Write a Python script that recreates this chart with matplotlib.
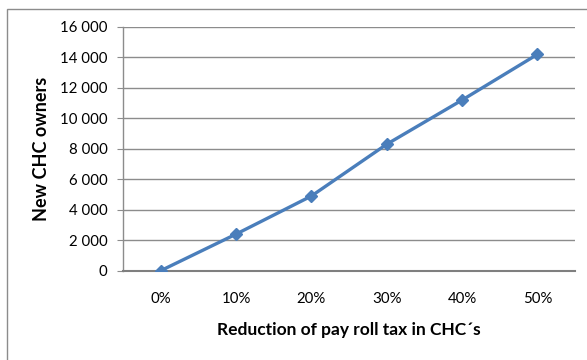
import matplotlib.pyplot as plt
from matplotlib.patches import Rectangle
from matplotlib.ticker import FuncFormatter

plt.rcParams['font.family'] = ['Lato', 'DejaVu Sans']

# data
categories = ['0%', '10%', '20%', '30%', '40%', '50%']
new_owners = [0, 2400, 4900, 8300, 11200, 14200]
y_ticks = [0, 2000, 4000, 6000, 8000, 10000, 12000, 14000, 16000]

fig = plt.figure(figsize=(5.87, 3.6), dpi=100)
ax = fig.add_axes([123 / 587, 1 - 270.7 / 360, 452 / 587, 243.7 / 360])

# chart-area border (Excel style)
fig.patches.append(Rectangle((7 / 587, -0.1), 1.2, 1 - 9 / 360 + 0.1,
                             transform=fig.transFigure, fill=False,
                             edgecolor='#8c8c8c', linewidth=1.0))

x = list(range(len(categories)))
ax.plot(x, new_owners, color='#4a7ebb', linewidth=2.4, marker='D',
        markersize=6.5, markerfacecolor='#4a7ebb', markeredgecolor='#4a7ebb',
        zorder=3)

ax.set_xlim(-0.5, len(categories) - 0.5)
ax.set_ylim(0, 16000)
ax.set_xticks(x)
ax.set_xticklabels(categories)
ax.set_yticks(y_ticks)
ax.yaxis.set_major_formatter(FuncFormatter(lambda v, p: f'{int(v):,}'.replace(',', ' ')))

ax.grid(axis='y', color='#8c8c8c', linewidth=1.0)
ax.set_axisbelow(True)
for s in ['top', 'right']:
    ax.spines[s].set_visible(False)
ax.spines['left'].set_color('#8c8c8c')
ax.spines['bottom'].set_color('#7f7f7f')
ax.spines['left'].set_linewidth(1.0)
ax.spines['bottom'].set_linewidth(1.5)

ax.tick_params(axis='y', length=4, color='#8c8c8c', pad=7, labelsize=10.8)
ax.tick_params(axis='x', length=0, pad=15, labelsize=10.8)

ax.set_ylabel('New CHC owners', fontsize=13, fontweight='bold', labelpad=7)
ax.set_xlabel('Reduction of pay roll tax in CHC\u00b4s', fontsize=12.5,
              fontweight='bold', labelpad=12)

fig.savefig('out.png', dpi=100)
